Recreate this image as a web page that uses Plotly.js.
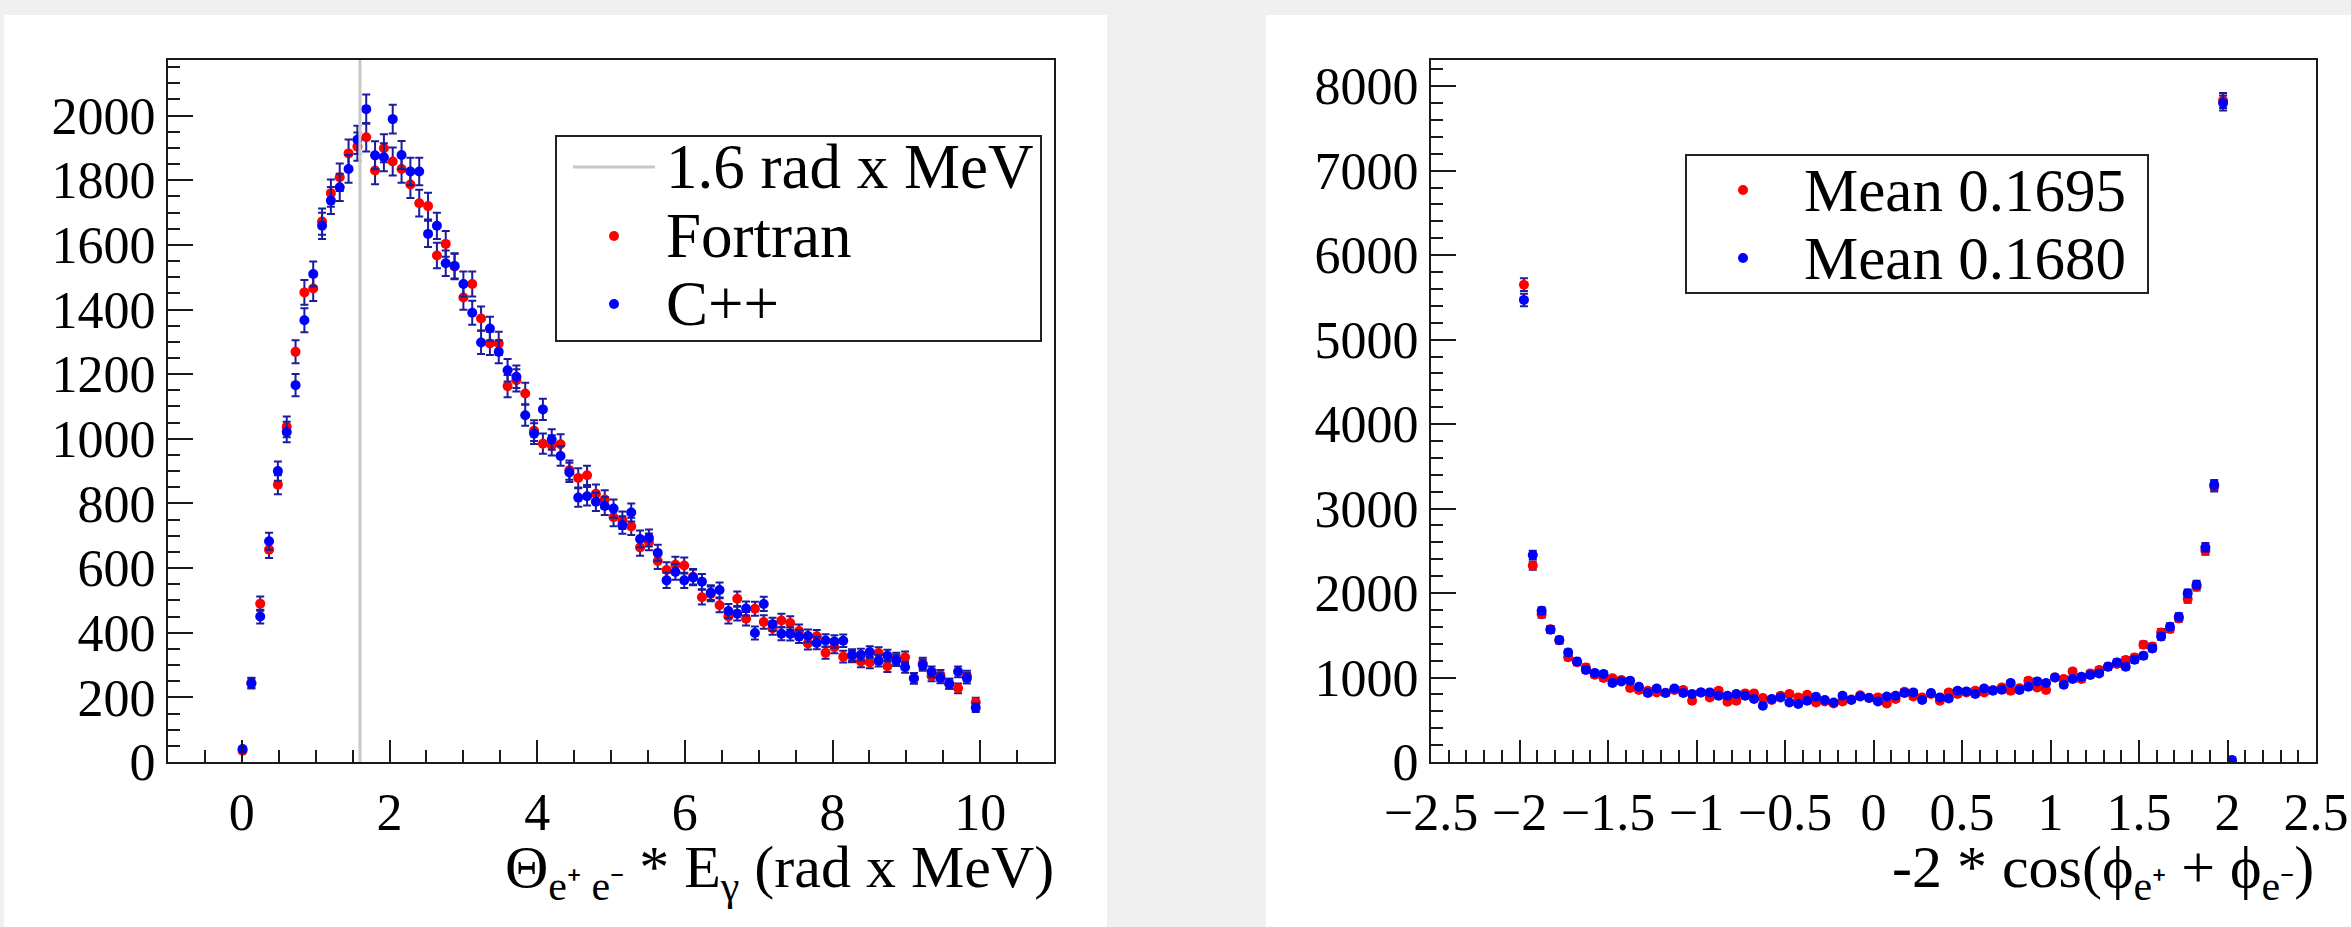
<!DOCTYPE html>
<html>
<head>
<meta charset="utf-8">
<script src="https://cdn.plot.ly/plotly-3.0.1.min.js"></script>
<style>
  html, body { margin: 0; padding: 0; background: #f0f0f0; }
  #chart { width: 2351px; height: 927px; }
</style>
</head>
<body>
<div id="chart"></div>
<script>
// ---------- data: left histogram (Θ * Eγ) ----------
const leftBinMin = -0.05, leftBinMax = 10.0, leftNBins = 84;
const leftFortran = [35,245,490,657,858,1037,1269,1453,1465,1672,1760,1809,1883,1904,1933,1830,1899,1858,1835,1787,
  1729,1720,1567,1603,1533,1437,1479,1372,1295,1295,1163,1181,1140,1025,985,980,983,903,879,887,
  830,812,757,748,729,664,681,622,594,610,608,573,510,520,485,450,505,443,474,433,
  414,438,430,405,367,389,338,355,326,327,311,308,337,296,320,324,259,305,266,268,
  242,228,266,185];
const leftCpp = [40,243,450,683,900,1021,1166,1367,1510,1659,1737,1778,1835,1925,2020,1877,1871,1989,1878,1827,
  1827,1634,1659,1543,1535,1479,1390,1298,1341,1269,1212,1192,1073,1016,1091,998,947,896,818,822,
  805,792,784,733,772,690,693,647,562,588,562,571,558,524,532,467,459,475,399,489,
  426,397,396,388,390,368,376,373,375,331,332,340,313,329,315,293,259,300,279,260,
  242,279,259,168];
const cutValue = 1.6;

// ---------- data: right histogram (-2 cos(ϕ+ + ϕ-)) ----------
const rightBinMin = -2.0, rightBinMax = 2.05, rightNBins = 81;
const rightFortran = [5650,2325,1750,1570,1440,1240,1180,1120,1033,994,990,970,876,852,844,824,820,852,852,725,
  824,765,844,713,725,812,812,757,733,784,805,765,797,705,717,693,717,740,790,760,
  765,693,745,832,776,765,805,725,824,805,824,844,824,852,883,844,873,962,883,852,
  1000,982,1072,982,1049,1089,1130,1160,1207,1238,1389,1368,1534,1575,1700,1930,2076,2502,3260,7830,
  0];
const rightCpp = [5470,2450,1790,1566,1444,1297,1191,1089,1053,1042,935,954,962,891,816,871,816,871,816,805,
  824,824,784,784,805,784,745,666,745,765,705,686,725,772,733,705,784,733,776,757,
  717,776,784,817,824,733,817,765,752,844,836,805,871,844,855,935,852,891,954,935,
  1001,915,982,1009,1029,1049,1128,1179,1128,1211,1258,1345,1487,1602,1720,1996,2099,2541,3281,7800,
  25];

const legendLeft = ['1.6 rad x MeV', 'Fortran', 'C++'];
const legendRight = ['Mean 0.1695', 'Mean 0.1680'];
const titleLeft = 'Θ<sub>e⁺ e⁻</sub> * E<sub>γ</sub> (rad x MeV)';
const titleRight = '-2 * cos(ϕ<sub>e⁺</sub> + ϕ<sub>e⁻</sub>)';

// ---------- helpers ----------
function binCenters(min, max, n) {
  const w = (max - min) / n, out = [];
  for (let i = 0; i < n; i++) out.push(min + (i + 0.5) * w);
  return out;
}
const sqrtErr = arr => arr.map(v => Math.sqrt(Math.max(v, 0)));

const xL = binCenters(leftBinMin, leftBinMax, leftNBins);
const xR = binCenters(rightBinMin, rightBinMax, rightNBins);

const W = 2351, H = 927;
const px = v => v / W;
const py = v => (H - v) / H;

const RED = '#ff0000', BLUE = '#0000ff', ERR = '#1c1c9c', FRAME = '#1a1a1a';
const FONT = 'Liberation Serif, Times New Roman, serif';

const yLeftMax = 2172, yRightMax = 8310;

function pts(x, y, color, name, xa, ya) {
  return {
    type: 'scatter', mode: 'markers', x: x, y: y, name: name,
    xaxis: xa, yaxis: ya, showlegend: false,
    marker: { color: color, size: 10, line: { width: 0 } },
    error_y: { type: 'data', array: sqrtErr(y), visible: true, color: ERR, thickness: 2, width: 4 }
  };
}

const traces = [
  pts(xL, leftFortran, RED, legendLeft[1], 'x', 'y'),
  pts(xL, leftCpp, BLUE, legendLeft[2], 'x', 'y'),
  {
    type: 'scatter', mode: 'lines', x: [cutValue, cutValue], y: [0, yLeftMax],
    name: legendLeft[0], xaxis: 'x', yaxis: 'y', showlegend: false,
    line: { color: '#c8c8c8', width: 3 }
  },
  pts(xR, rightFortran, RED, legendRight[0], 'x2', 'y2'),
  pts(xR, rightCpp, BLUE, legendRight[1], 'x2', 'y2')
];

const axisCommon = {
  showgrid: false, zeroline: false, showline: true, mirror: true,
  linecolor: FRAME, linewidth: 2,
  ticks: 'inside', tickcolor: FRAME, tickwidth: 2,
  tickfont: { family: FONT, size: 52, color: '#000' },
  fixedrange: true
};
const minorCommon = { ticks: 'inside', ticklen: 12, tickwidth: 2, tickcolor: FRAME, showgrid: false };

// ---------- manual legends (box, samples, labels) ----------
function legendBox(x0, x1, y0, y1) {
  return { type: 'rect', xref: 'paper', yref: 'paper', x0: px(x0), x1: px(x1), y0: py(y1), y1: py(y0),
    fillcolor: '#ffffff', line: { color: '#222', width: 2 }, layer: 'above' };
}
function legendDot(cx, cy, color) {
  return { type: 'circle', xref: 'paper', yref: 'paper', xsizemode: 'pixel', ysizemode: 'pixel',
    xanchor: px(cx), yanchor: py(cy), x0: -5, x1: 5, y0: -5, y1: 5,
    fillcolor: color, line: { width: 0 }, layer: 'above' };
}
function legendText(x, y, text, size) {
  return { xref: 'paper', yref: 'paper', x: px(x), y: py(y), xanchor: 'left', yanchor: 'middle',
    showarrow: false, text: text, font: { family: FONT, size: size, color: '#000' } };
}

const shapes = [
  { type: 'rect', xref: 'paper', yref: 'paper', x0: px(4), x1: px(1107), y0: 0, y1: py(15),
    fillcolor: '#ffffff', line: { width: 0 }, layer: 'below' },
  { type: 'rect', xref: 'paper', yref: 'paper', x0: px(1266), x1: 1, y0: 0, y1: py(15),
    fillcolor: '#ffffff', line: { width: 0 }, layer: 'below' },
  legendBox(556, 1041, 136, 341),
  { type: 'line', xref: 'paper', yref: 'paper', x0: px(573), x1: px(655), y0: py(167), y1: py(167),
    line: { color: '#c8c8c8', width: 3 }, layer: 'above' },
  legendDot(614, 236, RED),
  legendDot(614, 304, BLUE),
  legendBox(1686, 2148, 155, 293),
  legendDot(1743, 190, RED),
  legendDot(1743, 258, BLUE)
];

const annotations = [
  legendText(664, 167, legendLeft[0], 63),
  legendText(664, 236, legendLeft[1], 63),
  legendText(664, 304, legendLeft[2], 63),
  legendText(1802, 190, legendRight[0], 61),
  legendText(1802, 258, legendRight[1], 61),
  { xref: 'paper', yref: 'paper', x: px(1056), y: py(871), xanchor: 'right', yanchor: 'middle',
    showarrow: false, font: { family: FONT, size: 60, color: '#000' }, text: titleLeft },
  { xref: 'paper', yref: 'paper', x: px(2316), y: py(871), xanchor: 'right', yanchor: 'middle',
    showarrow: false, font: { family: FONT, size: 60, color: '#000' }, text: titleRight }
];

const layout = {
  width: W, height: H, autosize: false,
  margin: { l: 0, r: 0, t: 0, b: 0, pad: 0 },
  paper_bgcolor: '#f0f0f0', plot_bgcolor: '#ffffff',
  font: { family: FONT, color: '#000' },
  showlegend: false,
  xaxis: Object.assign({}, axisCommon, {
    domain: [px(168), px(1054)], range: [-1, 11], anchor: 'y',
    tick0: 0, dtick: 2, ticklen: 22, ticklabelstandoff: 4,
    minor: Object.assign({ dtick: 0.5, tick0: 0 }, minorCommon)
  }),
  yaxis: Object.assign({}, axisCommon, {
    domain: [py(762), py(60)], range: [0, yLeftMax], anchor: 'x',
    tick0: 0, dtick: 200, ticklen: 25,
    minor: Object.assign({ dtick: 50, tick0: 0 }, minorCommon)
  }),
  xaxis2: Object.assign({}, axisCommon, {
    domain: [px(1431), px(2316)], range: [-2.5, 2.5], anchor: 'y2',
    tick0: 0, dtick: 0.5, ticklen: 22, ticklabelstandoff: 4,
    minor: Object.assign({ dtick: 0.1, tick0: 0 }, minorCommon)
  }),
  yaxis2: Object.assign({}, axisCommon, {
    domain: [py(762), py(60)], range: [0, yRightMax], anchor: 'x2',
    tick0: 0, dtick: 1000, ticklen: 25,
    minor: Object.assign({ dtick: 200, tick0: 0 }, minorCommon)
  }),
  shapes: shapes,
  annotations: annotations
};

Plotly.newPlot('chart', traces, layout, { displayModeBar: false, staticPlot: true });
</script>
</body>
</html>
